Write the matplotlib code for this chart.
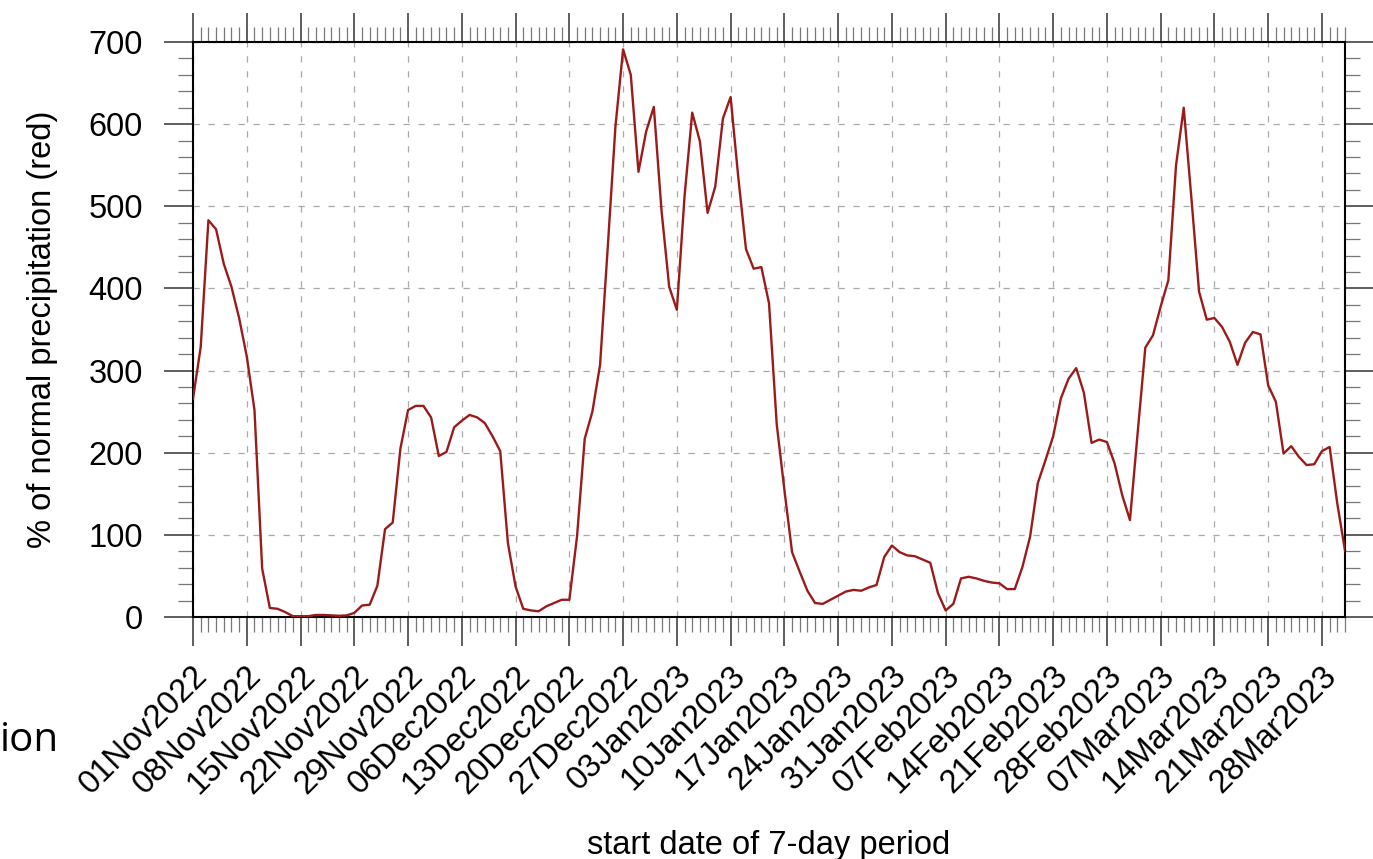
#!/usr/bin/env python3
"""Percent of normal precipitation for 7-day periods, Nov 2022 - Mar 2023."""
import numpy as np
import pandas as pd
import matplotlib
matplotlib.use("Agg")
import matplotlib.pyplot as plt
import matplotlib.dates as mdates
from matplotlib.transforms import ScaledTranslation

START = "2022-11-01"
END = "2023-03-31"

# % of normal precipitation, one value per start day (01Nov2022 .. 31Mar2023)
PCT_NORMAL = [
    266, 329, 483, 472, 430, 402, 364, 317, 252, 59,
    11, 10, 6, 1, 1, 1, 2.5, 2.5, 2, 1.5,
    2, 5, 14, 15, 38, 107, 115, 205, 252, 257,
    257, 243, 196, 201, 231, 239, 246, 243, 236, 220,
    202, 90, 37, 10, 8, 7, 13, 17, 21, 21,
    98, 217, 250, 307, 450, 597, 691, 660, 542, 591,
    621, 495, 402, 374, 512, 614, 579, 492, 524, 607,
    633, 535, 448, 424, 426, 382, 235, 155, 79, 55,
    32, 17, 16, 21, 26, 31, 33, 32, 36, 39,
    73, 87, 79, 75, 74, 70, 66, 29, 8, 16,
    47, 49, 47, 44, 42, 41, 34, 34, 61, 98,
    163, 191, 220, 266, 290, 303, 273, 212, 216, 213,
    187, 148, 118, 224, 328, 343, 378, 410, 550, 620,
    510, 396, 362, 364, 353, 335, 307, 334, 347, 344,
    282, 262, 199, 208, 195, 185, 186, 202, 207, 138, 81,
]
Y_MAJOR = [0, 100, 200, 300, 400, 500, 600, 700]

FONT = ["Liberation Sans", "DejaVu Sans"]
FS = 23.5


def main():
    dates = pd.date_range(START, END, freq="D")
    vals = np.array(PCT_NORMAL, dtype=float)
    major = pd.date_range(START, periods=22, freq="7D")

    plt.rcParams["font.family"] = FONT
    fig = plt.figure(figsize=(13.73, 8.59), dpi=100)
    ax = fig.add_axes([0.1406, 0.2817, 0.8390, 0.6694])

    ax.plot(dates, vals, color="#9b1b1b", lw=1.7, zorder=3)

    ax.set_xlim(dates[0], dates[-1])
    ax.set_ylim(0, 700)
    ax.set_xticks(major)
    ax.set_xticks(dates, minor=True)
    ax.xaxis.set_major_formatter(mdates.DateFormatter("%d%b%Y"))
    ax.set_yticks(Y_MAJOR)
    ax.set_yticks(np.arange(0, 701, 20), minor=True)

    ax.grid(True, which="major", color="#a8a8a8", lw=0.9,
            linestyle=(0, (5, 7)))

    for s in ax.spines.values():
        s.set_linewidth(1.5)
    ax.tick_params(which="both", direction="out", top=True, right=True,
                   width=1.1, color="#333333")
    ax.tick_params(which="major", length=21, labelsize=FS)
    ax.tick_params(which="minor", length=10.5, width=0.9, color="#777777")
    ax.tick_params(axis="y", which="major", pad=15)
    ax.tick_params(axis="x", which="major", pad=10)
    shift = ScaledTranslation(-1 / 100, 0, fig.dpi_scale_trans)
    for lab in ax.get_xticklabels():
        lab.set_rotation(45)
        lab.set_ha("right")
        lab.set_va("top")
        lab.set_rotation_mode("anchor")
        lab.set_transform(lab.get_transform() + shift)

    ax.set_ylabel("% of normal precipitation (red)", fontsize=FS, va="center")
    ax.yaxis.set_label_coords(-0.131, 0.5)
    ax.set_xlabel("start date of 7-day period", fontsize=FS, va="center")
    ax.xaxis.set_label_coords(0.5, -0.397)

    # fragment of a neighbouring caption that is cut off at the left edge
    fig.text(0.0, 0.138, "ion", fontsize=29, family=["Open Sans", "DejaVu Sans"],
             ha="left", va="center")

    fig.savefig("out.png", dpi=100)


if __name__ == "__main__":
    main()
